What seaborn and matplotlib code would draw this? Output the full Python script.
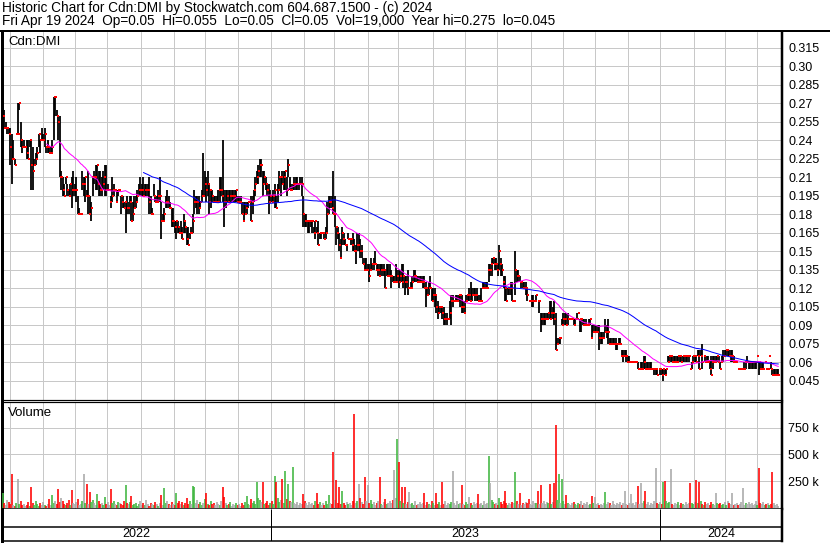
import numpy as np
import pandas as pd
import matplotlib
matplotlib.use("Agg")
import matplotlib.pyplot as plt
from matplotlib.lines import Line2D
import seaborn as sns

# ---------------- data (prices in thousandths of a dollar, volume in thousands) ----------------
high_milli = [
    270,265,255,250,250,250,245,240,225,245,270,270,255,240,240,235,240,240,240,240,
    235,225,230,235,245,240,250,245,250,235,240,235,235,240,275,275,265,260,260,215,
    210,205,210,205,200,205,210,215,205,210,195,185,180,215,210,210,200,215,195,190,
    210,215,220,220,215,215,210,215,220,220,205,200,195,210,205,200,200,200,200,195,
    195,190,190,195,190,195,195,190,195,195,200,205,210,205,210,205,205,205,210,195,
    185,205,195,195,200,210,190,180,185,195,200,195,190,185,185,175,175,175,170,175,
    170,180,175,170,170,165,170,180,200,195,195,195,190,200,230,215,210,215,205,200,
    200,195,195,195,200,210,210,240,200,200,200,200,200,200,200,200,200,195,195,195,
    190,190,190,190,190,190,195,195,200,210,215,220,225,225,215,215,210,205,205,200,
    195,200,205,195,205,215,210,215,215,215,210,225,210,205,205,210,210,210,205,210,
    210,195,180,180,175,175,175,175,170,175,170,175,165,165,165,165,170,190,195,195,
    195,215,195,170,170,165,160,170,165,160,155,165,160,160,165,160,155,165,165,160,
    155,145,145,145,140,140,145,140,145,150,140,140,140,140,140,140,135,140,140,140,
    135,130,130,140,135,135,135,140,140,130,130,135,120,125,130,135,135,130,130,130,
    130,130,130,125,120,125,130,120,120,120,115,110,105,105,105,105,100,100,95,110,
    115,115,110,115,115,115,115,115,110,110,115,115,120,125,120,120,120,120,115,115,
    120,125,125,125,125,140,140,145,145,145,145,140,155,145,140,130,130,120,120,120,
    125,125,110,150,135,135,130,125,125,125,125,120,110,110,115,115,110,115,110,110,
    100,100,100,100,100,100,110,110,105,110,100,80,80,80,95,100,100,100,100,95,
    95,95,95,95,100,100,95,95,95,95,95,90,95,95,90,90,90,90,90,90,
    85,85,85,95,90,95,80,80,80,80,80,75,80,80,70,70,70,70,65,65,
    60,60,60,60,60,60,55,60,60,65,65,60,60,60,60,55,55,55,55,55,
    55,55,55,55,55,65,65,65,65,65,65,65,65,65,65,65,65,65,65,65,
    55,60,65,65,65,70,70,70,75,65,65,65,65,60,65,65,65,65,65,65,
    60,65,70,70,70,70,70,70,70,65,60,60,55,55,55,55,60,60,65,60,
    60,60,60,60,60,65,60,60,60,60,60,55,55,65,60,55,55,55,55,55,
]
low_milli = [
    240,250,250,245,245,220,205,225,220,245,245,265,235,230,235,235,225,225,235,200,
    200,220,220,225,235,230,240,240,235,230,230,230,230,230,240,260,260,240,210,200,
    195,195,205,195,195,195,185,195,195,190,180,180,180,200,195,190,195,180,180,175,
    195,205,200,200,195,195,195,200,195,195,200,200,185,190,195,200,190,195,200,180,
    185,185,165,180,180,190,175,175,185,185,190,195,195,195,195,195,195,195,180,180,
    180,195,190,190,190,190,160,175,175,185,185,185,185,170,170,165,160,165,165,165,
    160,165,165,155,155,160,165,165,180,185,180,180,185,190,195,195,190,195,180,185,
    190,190,190,190,190,190,195,190,170,185,190,190,190,190,190,190,190,190,190,190,
    180,175,180,180,185,190,175,180,190,195,205,205,210,210,195,205,200,195,180,190,
    190,190,185,185,190,200,195,205,200,200,195,210,200,200,200,200,200,200,200,205,
    195,170,170,170,165,165,170,165,165,160,165,155,160,160,165,160,160,165,180,185,
    185,180,170,155,160,150,145,155,155,155,150,160,160,155,150,150,140,150,150,145,
    145,140,135,135,135,125,135,135,135,140,135,130,130,135,130,130,120,130,130,130,
    120,125,125,125,125,120,125,125,120,115,120,115,120,120,120,125,125,125,125,125,
    125,120,120,105,115,115,120,110,110,105,100,95,100,100,95,90,90,90,95,95,
    90,105,110,110,110,110,105,100,100,100,110,110,110,110,110,115,110,110,110,110,
    110,120,120,120,120,125,130,130,140,135,135,130,135,130,130,120,110,110,115,115,
    115,110,110,115,125,125,125,120,120,120,115,110,110,110,105,105,110,110,110,100,
    85,90,90,90,95,95,95,95,95,90,70,75,75,75,90,90,90,90,90,95,
    95,95,90,90,95,100,85,85,90,90,90,90,90,90,80,85,85,85,85,70,
    75,75,80,85,80,75,75,75,75,75,70,70,75,75,65,60,65,60,60,60,
    60,60,60,60,60,55,55,55,55,55,55,55,55,55,55,55,50,50,50,55,
    50,50,45,50,50,60,60,60,60,60,60,60,60,60,60,60,60,60,60,60,
    55,55,60,60,60,65,55,65,55,65,60,60,60,55,50,55,60,60,60,60,
    55,60,60,65,65,65,65,60,60,60,60,60,55,55,55,55,55,55,60,55,
    55,55,55,55,55,65,50,55,55,55,60,55,55,65,55,50,50,50,50,50,
]
close_milli = [
    260,250,250,250,245,235,225,225,220,245,245,270,240,235,235,235,230,225,240,220,
    215,220,225,230,245,240,240,240,245,235,235,230,230,235,275,275,260,255,210,210,
    200,195,210,200,195,205,200,200,200,200,180,180,180,205,205,210,195,195,180,185,
    210,210,210,220,205,200,200,205,210,200,200,200,190,195,200,200,190,200,200,195,
    190,185,190,185,185,190,175,180,185,190,195,200,200,200,195,200,200,200,190,180,
    180,195,190,190,195,195,175,175,180,190,190,185,185,175,175,170,175,170,165,165,
    160,175,170,160,155,165,165,175,190,190,190,185,190,195,195,205,200,205,190,200,
    195,190,190,190,190,200,200,195,190,190,195,190,195,195,195,195,200,190,190,190,
    180,175,180,185,190,190,175,190,200,205,210,215,220,220,205,210,205,200,190,195,
    190,195,200,185,200,210,210,205,210,215,200,220,200,200,205,205,205,205,205,205,
    205,180,175,175,175,175,175,175,165,175,165,155,165,165,165,160,165,180,190,190,
    185,180,180,170,165,155,145,165,160,155,155,160,160,160,155,150,150,155,155,150,
    150,140,135,135,135,130,135,140,140,140,135,135,130,135,135,135,120,130,130,130,
    130,125,125,125,130,125,130,125,130,125,125,120,120,120,125,130,130,125,125,125,
    125,125,120,120,115,120,120,110,115,115,105,100,105,105,100,95,95,95,95,100,
    110,110,110,110,110,115,115,105,105,100,110,115,115,110,115,115,115,115,110,110,
    110,120,120,120,120,135,135,140,145,140,140,135,150,140,135,125,120,110,120,120,
    120,110,110,135,130,130,125,125,120,120,120,115,110,110,110,110,110,115,110,110,
    95,95,95,95,95,100,95,100,100,95,70,75,80,80,90,95,95,90,95,95,
    95,95,90,95,95,100,95,95,90,90,90,90,90,95,80,85,85,85,85,80,
    80,80,80,85,85,85,75,75,75,75,75,75,75,75,65,65,65,65,60,60,
    60,60,60,60,60,55,55,55,55,60,55,55,55,55,55,55,55,55,50,55,
    55,50,55,50,55,60,65,65,60,60,60,60,65,65,60,65,65,65,65,65,
    55,60,65,65,60,65,55,65,60,65,60,60,60,55,50,60,60,60,65,60,
    55,60,65,65,70,70,65,65,65,60,60,60,55,55,55,55,55,60,60,60,
    60,60,60,60,60,65,60,55,55,55,60,55,55,65,55,50,50,50,50,50,
]
volume_k = [
    134,40,25,70,55,30,316,20,15,45,269,30,60,20,35,10,25,50,15,190,
    40,20,65,30,15,45,25,55,20,10,35,80,25,119,45,60,30,175,50,90,
    60,35,20,45,70,25,165,40,30,55,85,20,35,60,316,45,222,30,144,50,
    75,40,25,128,60,30,45,20,95,35,50,25,175,40,65,30,20,55,45,30,
    25,60,216,40,30,55,110,20,35,45,15,30,60,25,40,20,70,30,15,45,
    35,20,50,30,15,40,119,25,184,45,60,30,20,55,35,25,141,40,65,30,
    50,25,40,90,35,60,30,206,191,45,70,30,55,20,40,85,138,35,25,60,
    30,45,20,55,35,25,60,191,103,40,20,35,50,15,30,25,45,20,35,15,
    40,25,55,110,30,20,85,45,60,35,244,90,70,50,244,30,40,65,25,45,
    60,35,300,241,90,55,70,269,45,340,80,222,60,50,384,40,30,55,25,45,
    35,130,60,40,25,55,30,45,20,65,138,35,50,25,40,20,60,35,115,45,
    30,519,70,262,45,197,35,160,40,25,55,30,45,20,60,878,40,65,222,90,
    50,35,284,60,215,40,70,30,55,25,45,60,284,35,20,50,85,30,40,60,
    45,70,353,90,650,425,60,191,40,191,35,55,144,30,45,25,60,20,35,50,
    30,45,140,25,55,35,20,60,40,25,140,30,50,20,244,35,60,25,45,30,
    55,340,40,25,60,35,45,216,30,20,50,35,97,40,25,55,30,45,128,35,
    40,25,60,35,45,490,228,70,55,30,45,20,90,50,35,60,153,40,25,45,
    30,55,40,331,60,35,138,25,45,30,50,40,80,35,20,60,45,40,153,35,
    216,45,60,35,50,40,222,30,55,228,778,70,316,45,269,60,35,122,40,30,
    25,40,55,30,20,45,35,60,25,40,30,50,20,35,112,45,95,30,40,25,
    35,20,45,144,30,55,40,25,60,35,20,45,30,50,25,40,153,35,20,45,
    128,30,40,25,55,206,35,228,45,60,160,30,50,25,40,35,60,372,45,30,
    55,35,244,247,60,40,50,362,35,25,45,30,55,20,40,35,25,50,30,45,
    228,40,30,55,259,45,237,60,35,25,50,30,45,20,55,35,25,140,40,30,
    45,25,35,55,20,66,40,30,140,25,35,45,20,30,50,181,25,40,30,55,
    30,45,20,35,60,25,372,40,30,50,25,35,45,20,30,337,40,25,35,19,
]
prev_close_milli = 255
last_trading_day = "2024-04-19"
ma_short_days = 30
ma_long_days = 95

price_ticks = [0.045, 0.06, 0.075, 0.09, 0.105, 0.12, 0.135, 0.15, 0.165, 0.18,
               0.195, 0.21, 0.225, 0.24, 0.255, 0.27, 0.285, 0.30, 0.315]
price_tick_labels = ["0.045", "0.06", "0.075", "0.09", "0.105", "0.12", "0.135", "0.15", "0.165", "0.18",
                     "0.195", "0.21", "0.225", "0.24", "0.255", "0.27", "0.285", "0.30", "0.315"]
volume_ticks = [250000, 500000, 750000]
volume_tick_labels = ["250 k", "500 k", "750 k"]
title_line1 = "Historic Chart for Cdn:DMI by Stockwatch.com 604.687.1500 - (c) 2024"
title_line2 = "Fri Apr 19 2024  Op=0.05  Hi=0.055  Lo=0.05  Cl=0.05  Vol=19,000  Year hi=0.275  lo=0.045"
symbol_label = "Cdn:DMI"
volume_label = "Volume"

# ---------------- table ----------------
n = len(close_milli)
dates = pd.bdate_range(end=last_trading_day, periods=n)
df = pd.DataFrame({
    "day": np.arange(n),
    "date": dates,
    "high": np.array(high_milli) / 1000.0,
    "low": np.array(low_milli) / 1000.0,
    "close": np.array(close_milli) / 1000.0,
    "volume": np.array(volume_k) * 1000.0,
})
df["ma_short"] = df["close"].rolling(ma_short_days).mean()
df["ma_long"] = df["close"].rolling(ma_long_days).mean()
chg = df["close"].diff()
chg.iloc[0] = df["close"].iloc[0] - prev_close_milli / 1000.0
df["vcolor"] = np.where(chg > 1e-9, "#3fb63f", np.where(chg < -1e-9, "#ff0000", "#a8a8a8"))

month_start = np.asarray(df.index[df["date"].dt.month != df["date"].shift().dt.month][1:])
year_start = np.asarray(df.index[df["date"].dt.year != df["date"].shift().dt.year][1:])
year_labels = [str(y) for y in sorted(df["date"].dt.year.unique())]

# ---------------- figure ----------------
sns.set_theme(style="white")
plt.rcParams["font.family"] = ["Liberation Sans", "DejaVu Sans"]

W, H = 830, 543
PX = 72.0 / 100.0  # points per pixel
fig = plt.figure(figsize=(W / 100, H / 100), dpi=100)
fig.patch.set_facecolor("white")


def rect(x0, y0, x1, y1):
    return [x0 / W, 1 - y1 / H, (x1 - x0) / W, (y1 - y0) / H]


ax_p = fig.add_axes(rect(2, 32, 782, 400))
ax_v = fig.add_axes(rect(2, 402, 782, 509))
ax_d = fig.add_axes(rect(2, 509, 782, 541))

x_left, x_right = -0.67, 521.4

for ax in (ax_p, ax_v):
    ax.set_facecolor("white")
    ax.set_xlim(x_left, x_right)
    ax.set_xticks(month_start - 0.5)
    ax.tick_params(axis="x", length=0, labelbottom=False, bottom=False)
    ax.grid(True, color="#c8c8c8", linewidth=1 * PX)
    ax.set_axisbelow(True)
    ax.yaxis.tick_right()
    ax.tick_params(axis="y", length=0, pad=4.5, labelsize=9, labelcolor="black",
                   right=False, left=False)
    for s in ax.spines.values():
        s.set_color("black")

# price panel: high-low bars, close ticks, moving averages
ax_p.vlines(df["day"], df["low"], df["high"], color="black", linewidth=1.8 * PX, zorder=3)
sns.scatterplot(x=df["day"] + 0.55, y=df["close"], marker="s", s=2.6, color="#ff0000",
                linewidth=0, ax=ax_p, zorder=4, legend=False)
sns.lineplot(data=df, x="day", y="ma_short", color="#ff00ff", linewidth=1 * PX,
             estimator=None, ax=ax_p, zorder=5)
sns.lineplot(data=df, x="day", y="ma_long", color="#0000ff", linewidth=1 * PX,
             estimator=None, ax=ax_p, zorder=5)
ax_p.set_ylim(0.02959, 0.32797)
ax_p.set_yticks(price_ticks)
ax_p.set_yticklabels(price_tick_labels)
ax_p.set_xlabel("")
ax_p.set_ylabel("")
ax_p.spines["top"].set_visible(False)
ax_p.spines["left"].set_linewidth(3 * PX)
ax_p.spines["right"].set_linewidth(2.5 * PX)
ax_p.spines["bottom"].set_linewidth(1.2 * PX)

# volume panel
ax_v.vlines(df["day"], 0, df["volume"], colors=df["vcolor"], linewidth=1.6 * PX, zorder=3)
ax_v.set_ylim(-14000, 995000)
ax_v.set_yticks(volume_ticks)
ax_v.set_yticklabels(volume_tick_labels)
ax_v.spines["top"].set_linewidth(1.2 * PX)
ax_v.spines["left"].set_linewidth(3 * PX)
ax_v.spines["right"].set_linewidth(2.5 * PX)
ax_v.spines["bottom"].set_linewidth(1.5 * PX)

# date panel
ax_d.set_xlim(x_left, x_right)
ax_d.set_ylim(0, 1)
ax_d.set_xticks([])
ax_d.set_yticks([])
ax_d.set_facecolor("white")
for s in ax_d.spines.values():
    s.set_color("black")
ax_d.spines["top"].set_visible(False)
ax_d.spines["left"].set_linewidth(3 * PX)
ax_d.spines["right"].set_linewidth(2.5 * PX)
ax_d.spines["bottom"].set_linewidth(1.5 * PX)
ax_d.axhline(0.453, color="black", linewidth=1.5 * PX)
ax_d.vlines(year_start - 0.5, 0, 1, color="black", linewidth=1 * PX)
bounds = [x_left] + list(year_start - 0.5) + [x_right]
for k, lab in enumerate(year_labels):
    ax_d.text((bounds[k] + bounds[k + 1]) / 2, 0.23, lab, ha="center", va="center",
              fontsize=9, color="black")

# header and panel captions
fig.add_artist(Line2D([0, 1], [1 - 31 / H] * 2, transform=fig.transFigure,
                      color="black", linewidth=2 * PX))
fig.text(2 / W, 1 - 8 / H, title_line1, ha="left", va="center", fontsize=9.8, color="black")
fig.text(2 / W, 1 - 21 / H, title_line2, ha="left", va="center", fontsize=9.8, color="black")
fig.text(8 / W, 1 - 42 / H, symbol_label, ha="left", va="center", fontsize=9.5, color="black")
fig.text(8 / W, 1 - 413 / H, volume_label, ha="left", va="center", fontsize=9.5, color="black")

fig.savefig("out.png", dpi=100, facecolor="white")
